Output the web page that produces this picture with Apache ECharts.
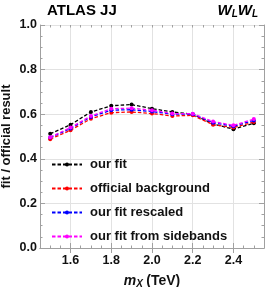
<!DOCTYPE html>
<html>
<head>
<meta charset="utf-8">
<script src="https://cdn.jsdelivr.net/npm/echarts@6/dist/echarts.min.js"></script>
<style>
html,body{margin:0;padding:0;background:#fff;}
#c{width:266px;height:287px;}
</style>
</head>
<body>
<div id="c"></div>
<script>
const massTeV = [1.5, 1.6, 1.7, 1.8, 1.9, 2.0, 2.1, 2.2, 2.3, 2.4, 2.5];
const ourFit = [0.512, 0.553, 0.610, 0.638, 0.643, 0.625, 0.610, 0.600, 0.556, 0.533, 0.559];
const officialBackground = [0.488, 0.528, 0.580, 0.607, 0.610, 0.603, 0.592, 0.595, 0.553, 0.540, 0.565];
const ourFitRescaled = [0.495, 0.536, 0.588, 0.618, 0.620, 0.612, 0.600, 0.600, 0.562, 0.546, 0.572];
const ourFitSidebands = [0.497, 0.540, 0.592, 0.625, 0.627, 0.618, 0.603, 0.602, 0.567, 0.550, 0.578];
const seriesNames = ['our fit', 'official background', 'our fit rescaled', 'our fit from sidebands'];
const xTicks = [1.6, 1.8, 2.0, 2.2, 2.4];
const yTicks = [0.0, 0.2, 0.4, 0.6, 0.8, 1.0];

const colors = ['#000000', '#ff0000', '#0000ff', '#ff00ff'];
const values = [ourFit, officialBackground, ourFitRescaled, ourFitSidebands];

const FONT = '"Liberation Sans", Arial, sans-serif';
const frameColor = '#a0a0a0';
const gridColor = '#e2e2e2';
const textColor = '#111';
const gridPos = {left: 40, right: 2, top: 25, bottom: 39, outerBoundsMode: 'none', containLabel: false};

const chart = echarts.init(document.getElementById('c'), null, {renderer: 'canvas'});

const series = seriesNames.map((name, i) => ({
  name: name,
  type: 'line',
  xAxisIndex: 0,
  yAxisIndex: 0,
  data: massTeV.map((x, k) => [x, values[i][k]]),
  symbol: 'circle',
  symbolSize: 4,
  color: colors[i],
  lineStyle: {color: colors[i], width: 1.3, type: [3.5, 2]},
  itemStyle: {color: colors[i]},
  z: 3 + i,
  animation: false
}));

const option = {
  animation: false,
  textStyle: {fontFamily: FONT},
  title: [
    {text: 'ATLAS JJ', left: 47, top: 3, padding: 0,
     textStyle: {fontFamily: FONT, fontSize: 15, fontWeight: 'bold', color: '#000'}},
    {text: '{w|W}{s|L}{w|W}{s|L}', right: 8, top: 3, padding: 0,
     textStyle: {fontFamily: FONT, rich: {
       w: {fontSize: 15, fontWeight: 'bold', fontStyle: 'italic', color: '#000', fontFamily: FONT},
       s: {fontSize: 10, fontWeight: 'bold', fontStyle: 'italic', color: '#000', fontFamily: FONT, verticalAlign: 'bottom', padding: [6, 0, 0, 0]}
     }}}
  ],
  legend: {
    data: seriesNames,
    orient: 'vertical',
    left: 51,
    top: 157,
    padding: 0,
    itemWidth: 30,
    itemHeight: 5,
    itemGap: 9,
    textStyle: {fontFamily: FONT, fontSize: 13, fontWeight: 'bold', color: textColor, padding: [0, 0, 0, 3], lineHeight: 15}
  },
  grid: [
    Object.assign({}, gridPos, {show: false}),
    Object.assign({}, gridPos, {show: false})
  ],
  xAxis: [
    {type: 'value', gridIndex: 0, position: 'bottom', min: 1.45, max: 2.55,
     name: '{i|m}{s|X} {n|(TeV)}', nameLocation: 'middle', nameGap: 26, nameMoveOverlap: false,
     nameTextStyle: {rich: {
       i: {fontFamily: FONT, fontSize: 14, fontStyle: 'italic', fontWeight: 'bold', color: textColor},
       s: {fontFamily: FONT, fontSize: 10, fontStyle: 'italic', fontWeight: 'bold', color: textColor, padding: [5, 0, 0, 0]},
       n: {fontFamily: FONT, fontSize: 14, fontWeight: 'bold', color: textColor}
     }},
     axisLine: {show: true, lineStyle: {color: frameColor, width: 1}},
     axisTick: {show: true, inside: true, length: 5, customValues: xTicks, lineStyle: {color: frameColor}},
     axisLabel: {show: true, customValues: xTicks, margin: 6, fontFamily: FONT, fontSize: 12.5, fontWeight: 'bold', color: textColor,
                 formatter: v => Number(v).toFixed(1)},
     splitLine: {show: true, lineStyle: {color: gridColor, width: 1}}},
    {type: 'value', gridIndex: 0, position: 'top', min: 1.45, max: 2.55,
     axisLine: {show: true, lineStyle: {color: frameColor, width: 1}},
     axisTick: {show: true, inside: true, length: 5, customValues: xTicks, lineStyle: {color: frameColor}},
     axisLabel: {show: false},
     splitLine: {show: false}},
    {type: 'value', gridIndex: 1, position: 'bottom', min: 1.45, max: 2.55, interval: 0.05,
     axisLine: {show: false},
     axisTick: {show: true, inside: true, length: 2.5, lineStyle: {color: frameColor}},
     axisLabel: {show: false},
     splitLine: {show: false}},
    {type: 'value', gridIndex: 1, position: 'top', min: 1.45, max: 2.55, interval: 0.05,
     axisLine: {show: false},
     axisTick: {show: true, inside: true, length: 2.5, lineStyle: {color: frameColor}},
     axisLabel: {show: false},
     splitLine: {show: false}}
  ],
  yAxis: [
    {type: 'value', gridIndex: 0, position: 'left', min: 0, max: 1, interval: 0.2,
     name: 'fit / official result', nameLocation: 'middle', nameGap: 27, nameRotate: 90, nameMoveOverlap: false,
     nameTextStyle: {fontFamily: FONT, fontSize: 13, fontWeight: 'bold', color: textColor},
     axisLine: {show: true, lineStyle: {color: frameColor, width: 1}},
     axisTick: {show: true, inside: true, length: 5, lineStyle: {color: frameColor}},
     minorTick: {show: true, splitNumber: 4, length: 2.5, lineStyle: {color: frameColor}},
     axisLabel: {show: true, margin: 3, fontFamily: FONT, fontSize: 12.5, fontWeight: 'bold', color: textColor,
                 formatter: v => Number(v).toFixed(1)},
     splitLine: {show: true, lineStyle: {color: gridColor, width: 1}}},
    {type: 'value', gridIndex: 0, position: 'right', min: 0, max: 1, interval: 0.2,
     axisLine: {show: true, lineStyle: {color: frameColor, width: 1}},
     axisTick: {show: true, inside: true, length: 5, lineStyle: {color: frameColor}},
     minorTick: {show: true, splitNumber: 4, length: 2.5, lineStyle: {color: frameColor}},
     axisLabel: {show: false},
     splitLine: {show: false}},
    {type: 'value', gridIndex: 1, min: 0, max: 1, show: false}
  ],
  series: series
};
chart.setOption(option);
</script>
</body>
</html>
